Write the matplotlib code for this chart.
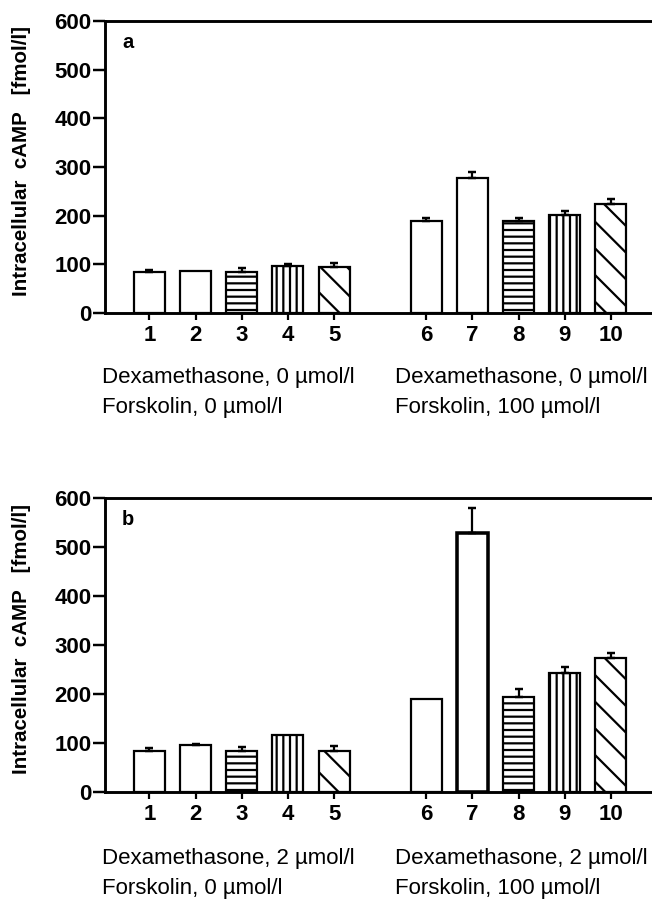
import numpy as np
import matplotlib.pyplot as plt

plt.rcParams["font.family"] = ["Liberation Sans", "DejaVu Sans"]
plt.rcParams["hatch.linewidth"] = 2.0
plt.rcParams["hatch.color"] = "black"

# bar numbers and positions (gap between the two groups)
bar_labels = ["1", "2", "3", "4", "5", "6", "7", "8", "9", "10"]
bar_pos = [1, 2, 3, 4, 5, 7, 8, 9, 10, 11]
hatches = ["", "", "--", "||", "\\", "", "", "--", "||", "\\"]

# panel a: dexamethasone 0 umol/l
camp_a = [84, 86, 85, 97, 95, 190, 278, 190, 201, 223]
err_a = [4, 0, 8, 4, 8, 5, 12, 5, 8, 11]

# panel b: dexamethasone 2 umol/l
camp_b = [84, 95, 84, 115, 84, 189, 527, 194, 242, 273]
err_b = [5, 3, 7, 0, 9, 0, 51, 15, 13, 10]

panel_names = ["a", "b"]
dexa_labels = ["Dexamethasone, 0 \u00b5mol/l", "Dexamethasone, 2 \u00b5mol/l"]
forsk_labels = ["Forskolin, 0 \u00b5mol/l", "Forskolin, 100 \u00b5mol/l"]

fig = plt.figure(figsize=(8.15, 11.2625), dpi=80)

axes_boxes = [[0.161, 0.6526, 0.839, 0.3241], [0.161, 0.1213, 0.839, 0.3263]]
text_y = [(0.5805, 0.5472), (0.0477, 0.0144)]

for i, (vals, errs) in enumerate([(camp_a, err_a), (camp_b, err_b)]):
    ax = fig.add_axes(axes_boxes[i])
    for j in range(len(vals)):
        lw = 2.0
        if i == 1 and j == 6:
            lw = 3.2
        ax.bar(bar_pos[j], vals[j], width=0.67, facecolor="white",
               edgecolor="black", linewidth=lw, hatch=hatches[j], zorder=2)
    # only the upper half of the error bar is shown
    has_err = [k for k in range(len(errs)) if errs[k] > 0]
    ax.errorbar([bar_pos[k] for k in has_err], [vals[k] for k in has_err],
                yerr=[np.zeros(len(has_err)), [errs[k] for k in has_err]],
                fmt="none", ecolor="black", elinewidth=2.0, capsize=4,
                capthick=2.2, zorder=3)

    ax.set_xlim(0.036, 11.89)
    ax.set_ylim(0, 600)
    ax.set_yticks([0, 100, 200, 300, 400, 500, 600])
    ax.set_xticks(bar_pos)
    ax.set_xticklabels(bar_labels)

    ax.spines["right"].set_visible(False)
    for s in ["left", "bottom", "top"]:
        ax.spines[s].set_linewidth(2.6)
    ax.tick_params(axis="y", direction="out", length=11, width=2.2, pad=1,
                   labelsize=20)
    ax.tick_params(axis="x", direction="out", length=6, width=2.0, pad=5,
                   labelsize=20)
    for lab in ax.get_xticklabels() + ax.get_yticklabels():
        lab.set_fontweight("bold")

    ax.set_ylabel("Intracellular  cAMP   [fmol/l]", fontsize=18.5,
                  fontweight="bold")
    ax.yaxis.set_label_coords(-0.135, 0.52)

    ax.text(0.042, 0.925, panel_names[i], transform=ax.transAxes,
            fontsize=18, fontweight="bold", ha="center", va="center")

    fig.text(0.1564, text_y[i][0], dexa_labels[i], fontsize=20,
             ha="left", va="center")
    fig.text(0.1564, text_y[i][1], forsk_labels[0], fontsize=20,
             ha="left", va="center")
    fig.text(0.6058, text_y[i][0], dexa_labels[i], fontsize=20,
             ha="left", va="center")
    fig.text(0.6058, text_y[i][1], forsk_labels[1], fontsize=20,
             ha="left", va="center")

fig.savefig("out.png", dpi=80)
